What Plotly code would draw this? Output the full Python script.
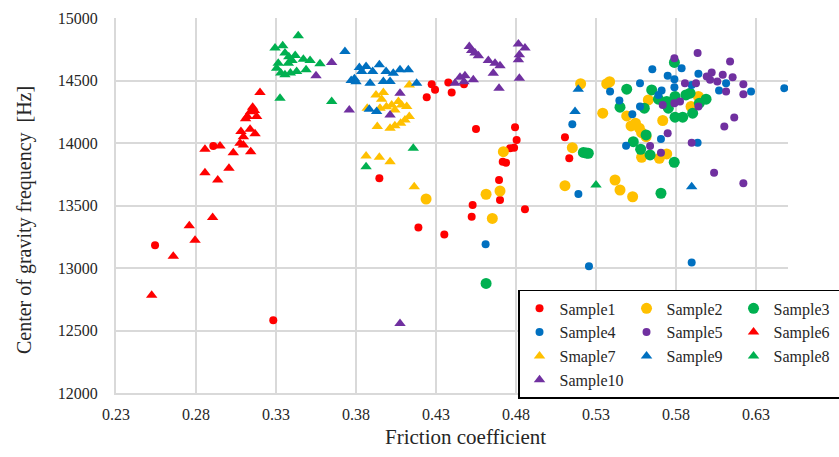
import plotly.graph_objects as go

# ---------------- data ----------------
s1_x = [0.2544,0.2908,0.3283,0.3946,0.4190,0.4352,0.4242,0.4273,0.4294,0.4377,0.4398,0.4475,0.4550,0.4794,0.4804,0.4763,0.4788,0.4717,0.4738,0.4694,0.4700,0.4529,0.4523,0.4856,0.5106,0.5133]
s1_y = [13183,13977,12582,13718,13325,13269,14367,14471,14426,14484,14404,14471,14113,14127,14025,13958,13963,13851,13843,13704,13544,13504,13410,13470,14046,13878]

s2_x = [0.4238,0.4721,0.4700,0.4613,0.4652,0.5152,0.5106,0.5204,0.5367,0.5385,0.5342,0.5492,0.5519,0.5547,0.5571,0.5585,0.5627,0.5717,0.5613,0.5585,0.5696,0.5742,0.5940,0.5894,0.5419,0.5450,0.5529]
s2_y = [13552,13931,13616,13590,13397,13963,13659,14474,14474,14490,14239,14217,14137,14159,14119,14083,14345,14180,14051,13886,13878,13913,14372,14292,13704,13624,13570]

s3_x = [0.4613,0.5221,0.5240,0.5252,0.5492,0.5450,0.5602,0.5648,0.5690,0.5742,0.5752,0.5794,0.5790,0.5862,0.5888,0.5946,0.5988,0.5904,0.5794,0.5842,0.5613,0.5533,0.5579,0.5638,0.5789,0.5706]
s3_y = [12877,13925,13920,13918,14431,14287,14279,14425,14351,14332,14279,14372,14645,14385,14399,14319,14351,14239,14207,14207,14065,14011,13950,13905,13846,13598]

s4_x = [0.4610,0.5152,0.5190,0.5256,0.5898,0.6477,0.5652,0.5835,0.5575,0.5388,0.5446,0.5575,0.5527,0.5748,0.5790,0.5790,0.5940,0.5710,0.5690,0.6113,0.6069,0.6269,0.5488,0.5706,0.5935,0.5898]
s4_y = [13191,14151,13592,13015,13045,14439,14591,14599,14479,14412,14340,14292,14231,14538,14511,14447,14554,14420,14385,14479,14420,14412,13979,14033,14003,14465]

s5_x = [0.5790,0.5935,0.6138,0.5856,0.5925,0.5992,0.6023,0.6013,0.6058,0.6092,0.6154,0.6113,0.6221,0.6221,0.5717,0.5790,0.5825,0.5940,0.6164,0.6102,0.5748,0.5638,0.5706,0.5898,0.6038,0.6221]
s5_y = [14679,14720,14652,14479,14479,14532,14564,14506,14492,14546,14527,14412,14471,14391,14305,14319,14332,14292,14204,14132,14078,13977,13923,14003,13763,13678]

s6_x = [0.2523,0.2658,0.2758,0.2794,0.2904,0.2856,0.2936,0.3006,0.2856,0.2950,0.3033,0.3075,0.3096,0.3142,0.3081,0.3096,0.3138,0.3169,0.3121,0.3179,0.3140,0.3154,0.3165,0.3200,0.3110]
s6_y = [12783,13095,13338,13223,13405,13763,13704,13798,13950,13977,13923,13998,13985,13931,14092,14051,14111,14074,14212,14212,14250,14286,14260,14404,14195]

s7_x = [0.4133,0.3925,0.3971,0.3960,0.3870,0.3950,0.3990,0.4023,0.4065,0.4085,0.4117,0.4043,0.4133,0.4106,0.4079,0.4043,0.4013,0.3933,0.3863,0.3946,0.4013,0.4164]
s7_y = [14465,14385,14404,14351,14279,14279,14290,14305,14332,14305,14292,14265,14212,14185,14159,14138,14119,14132,13897,13886,13851,13651]

s9_x = [0.3731,0.3770,0.3790,0.3800,0.3836,0.3821,0.3863,0.3904,0.3946,0.3988,0.4033,0.4075,0.4127,0.3888,0.3971,0.4013,0.4179,0.3883,0.3929,0.5189,0.5169,0.5898]
s9_y = [14732,14500,14515,14490,14572,14604,14612,14572,14626,14572,14559,14586,14586,14479,14492,14492,14479,14271,14252,14431,14252,13651]

s8_x = [0.3439,0.3294,0.3342,0.3356,0.3380,0.3420,0.3314,0.3304,0.3377,0.3400,0.3471,0.3513,0.3575,0.3488,0.3429,0.3356,0.3330,0.3390,0.3325,0.3648,0.4158,0.3863,0.5300]
s8_y = [14858,14760,14778,14720,14690,14700,14639,14599,14639,14660,14671,14660,14634,14586,14572,14546,14560,14560,14359,14332,13958,13811,13664]

s10_x = [0.3648,0.3550,0.3758,0.4075,0.4013,0.4075,0.4508,0.4523,0.4544,0.4565,0.4627,0.4669,0.4700,0.4658,0.4694,0.4815,0.4856,0.4821,0.4815,0.4821,0.4419,0.4450,0.4481,0.4533,0.4475]
s10_y = [14645,14538,14265,14399,14225,12556,14772,14740,14720,14698,14660,14639,14618,14559,14439,14792,14760,14706,14666,14519,14479,14527,14538,14506,14490]

x_ticks = [0.23, 0.28, 0.33, 0.38, 0.43, 0.48, 0.53, 0.58, 0.63]
y_ticks = [12000, 12500, 13000, 13500, 14000, 14500, 15000]

RED, GOLD, GREEN, BLUE, PURPLE = "#FF0000", "#FFC000", "#00B050", "#0070C0", "#7030A0"

series = [
    ("Sample1", s1_x, s1_y, RED, "circle", 8),
    ("Sample2", s2_x, s2_y, GOLD, "circle", 11),
    ("Sample3", s3_x, s3_y, GREEN, "circle", 11),
    ("Sample4", s4_x, s4_y, BLUE, "circle", 8),
    ("Sample5", s5_x, s5_y, PURPLE, "circle", 8),
    ("Sample6", s6_x, s6_y, RED, "triangle-up", 10),
    ("Smaple7", s7_x, s7_y, GOLD, "triangle-up", 10),
    ("Sample9", s9_x, s9_y, BLUE, "triangle-up", 10),
    ("Sample8", s8_x, s8_y, GREEN, "triangle-up", 10),
    ("Sample10", s10_x, s10_y, PURPLE, "triangle-up", 10),
]

FONT = "Liberation Serif, Times New Roman, serif"
TXT = "#262626"

fig = go.Figure()
for name, xs, ys, col, sym, sz in series:
    fig.add_trace(go.Scatter(x=xs, y=ys, mode="markers", name=name,
                             marker=dict(color=col, symbol=sym, size=sz, line=dict(width=0))))

grid = "#D9D9D9"
fig.update_layout(
    width=839, height=457,
    margin=dict(l=116, r=51, t=18, b=64, autoexpand=False),
    paper_bgcolor="white", plot_bgcolor="white",
    font=dict(family=FONT, size=16, color=TXT),
    xaxis=dict(range=[0.23, 0.65], tickvals=x_ticks, ticktext=[f"{v:.2f}" for v in x_ticks],
               showgrid=True, gridcolor=grid, gridwidth=2, showline=True, linecolor=grid,
               linewidth=2, zeroline=False, ticks="", ticklabelstandoff=6,
               tickfont=dict(family=FONT, size=16, color=TXT)),
    yaxis=dict(range=[12000, 15000], tickvals=y_ticks, ticktext=[str(v) for v in y_ticks],
               showgrid=True, gridcolor=grid, gridwidth=2, showline=True, linecolor=grid,
               linewidth=2, zeroline=False, ticks="", ticklabelstandoff=13,
               tickfont=dict(family=FONT, size=16, color=TXT)),
    legend=dict(orientation="h", x=1.0804, y=0.275, xanchor="right", yanchor="top",
                entrywidth=62, bordercolor="#000000", borderwidth=1.5, bgcolor="white",
                font=dict(family=FONT, size=16, color=TXT), itemwidth=30, traceorder="normal"),
    annotations=[
        dict(text="Center of gravity frequency\u00a0\u00a0[Hz]", xref="paper", yref="paper",
             x=-0.137, y=0.461, showarrow=False, textangle=-90,
             font=dict(family=FONT, size=20, color=TXT), xanchor="center", yanchor="middle"),
        dict(text="Friction coefficient", xref="paper", yref="paper",
             x=0.52, y=-0.1173, showarrow=False,
             font=dict(family=FONT, size=21, color=TXT), xanchor="center", yanchor="middle"),
    ],
)

fig.write_html("out.html")
